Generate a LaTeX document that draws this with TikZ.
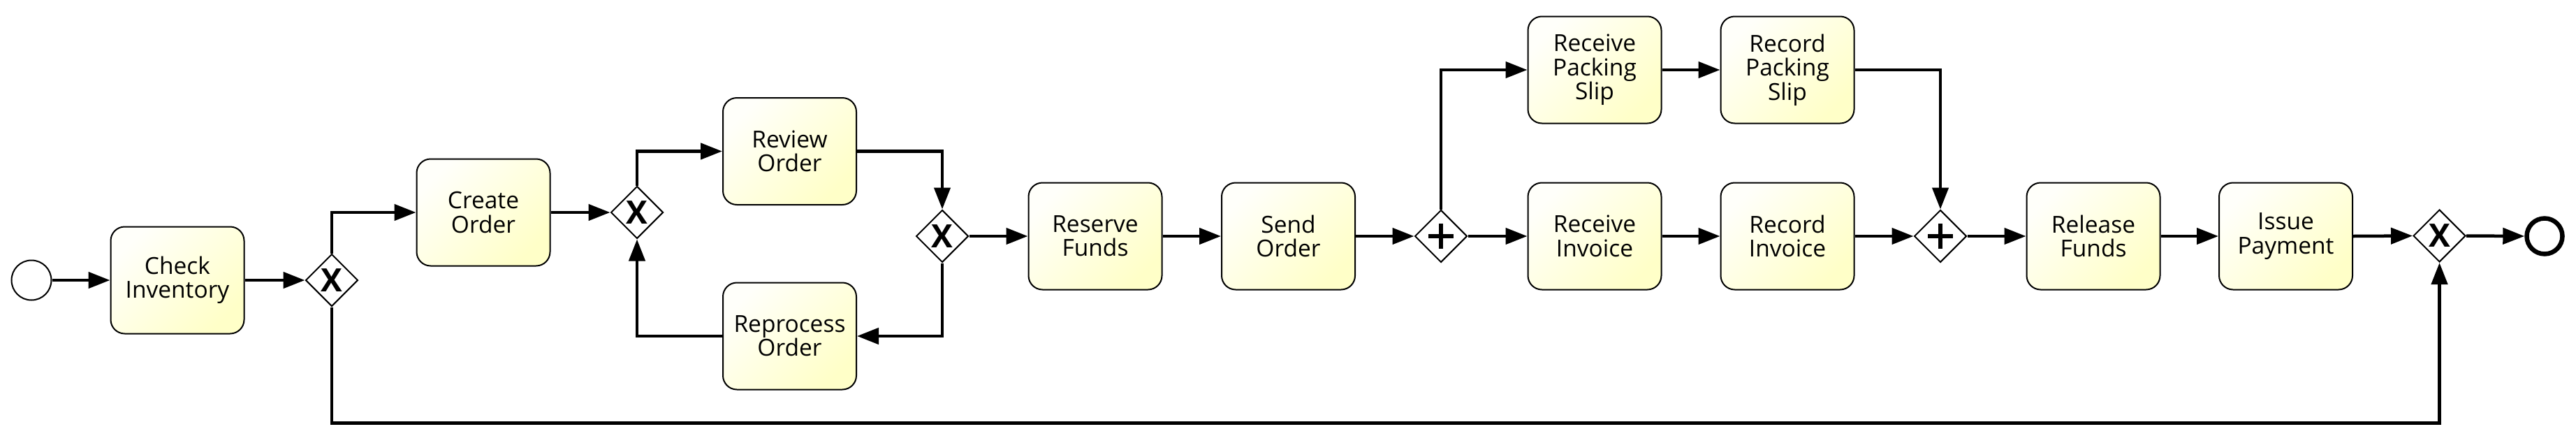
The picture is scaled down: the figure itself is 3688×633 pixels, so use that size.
\documentclass[tikz,border=0pt]{standalone}
\usepackage{fontspec}
\setmainfont{Open Sans}
\usetikzlibrary{arrows.meta,shapes.geometric}
\definecolor{taskyel}{RGB}{255,255,200}
\definecolor{tasklight}{RGB}{255,255,250}
\begin{document}
\begin{tikzpicture}[x=1pt,y=-1pt,
  task/.style={draw, line width=2pt, rounded corners=20pt, minimum width=191pt,
    minimum height=153pt, align=center, inner sep=0pt,
    top color=tasklight, bottom color=taskyel, shading angle=45,
    font=\fontsize{33.5}{34.3}\selectfont},
  gw/.style={diamond, draw, line width=2pt, fill=white, minimum width=75pt,
    minimum height=75pt, inner sep=0pt},
  xgw/.style={gw, font=\fontsize{46}{46}\selectfont\bfseries},
  pgw/.style={gw, path picture={
    \draw[line width=6pt] ([xshift=-18pt]path picture bounding box.center) -- ([xshift=18pt]path picture bounding box.center);
    \draw[line width=6pt] ([yshift=-18pt]path picture bounding box.center) -- ([yshift=18pt]path picture bounding box.center);}},
  flow/.style={line width=4.5pt, -{Triangle[length=31pt,width=23pt]}},
  startev/.style={circle, draw, line width=2pt, minimum size=57pt, inner sep=0pt, fill=white},
  endev/.style={circle, draw, line width=6.5pt, minimum size=51pt, inner sep=0pt, fill=white}
]
\path[use as bounding box] (0,0) rectangle (3688,633);

\node[startev] (start) at (45,401) {};
\node[task] (ci) at (254,401) {Check\\Inventory};
\node[xgw] (g1) at (475,401) {X};
\node[task] (co) at (692,304) {Create\\Order};
\node[xgw] (g2) at (912,304) {X};
\node[task] (ro) at (1130.5,216.5) {Review\\Order};
\node[task] (rpo) at (1130.5,481) {Reprocess\\Order};
\node[xgw] (g3) at (1349,338) {X};
\node[task] (rf) at (1568,338) {Reserve\\Funds};
\node[task] (so) at (1844.5,338) {Send\\Order};
\node[pgw] (g4) at (2063,338) {};
\node[task] (rps) at (2283,100) {Receive\\Packing\\Slip};
\node[task] (rcps) at (2559,100) {Record\\Packing\\Slip};
\node[task] (ri) at (2283,338) {Receive\\Invoice};
\node[task] (rci) at (2559,338) {Record\\Invoice};
\node[pgw] (g5) at (2778,338) {};
\node[task] (rlf) at (2997,338) {Release\\Funds};
\node[task] (ip) at (3272.5,338) {Issue\\Payment};
\node[xgw] (g6) at (3492.5,337.5) {X};
\node[endev] (end) at (3643,338) {};
\coordinate (low) at (0,605.5);

\draw[flow] (start.east) -- (ci.west);
\draw[flow] (ci.east) -- (g1.west);
\draw[flow] (g1.north) |- (co.west);
\draw[flow] (g1.south) -- (g1.south |- low) -- (g6.south |- low) -- (g6.south);
\draw[flow] (co.east) -- (g2.west);
\draw[flow] (g2.north) |- (ro.west);
\draw[flow] (ro.east) -| (g3.north);
\draw[flow] (g3.south) |- (rpo.east);
\draw[flow] (rpo.west) -| (g2.south);
\draw[flow] (g3.east) -- (rf.west);
\draw[flow] (rf.east) -- (so.west);
\draw[flow] (so.east) -- (g4.west);
\draw[flow] (g4.north) |- (rps.west);
\draw[flow] (g4.east) -- (ri.west);
\draw[flow] (rps.east) -- (rcps.west);
\draw[flow] (ri.east) -- (rci.west);
\draw[flow] (rcps.east) -| (g5.north);
\draw[flow] (rci.east) -- (g5.west);
\draw[flow] (g5.east) -- (rlf.west);
\draw[flow] (rlf.east) -- (ip.west);
\draw[flow] (ip.east) -- (g6.west);
\draw[flow] (g6.east) -- (end.west);
\end{tikzpicture}
\end{document}
